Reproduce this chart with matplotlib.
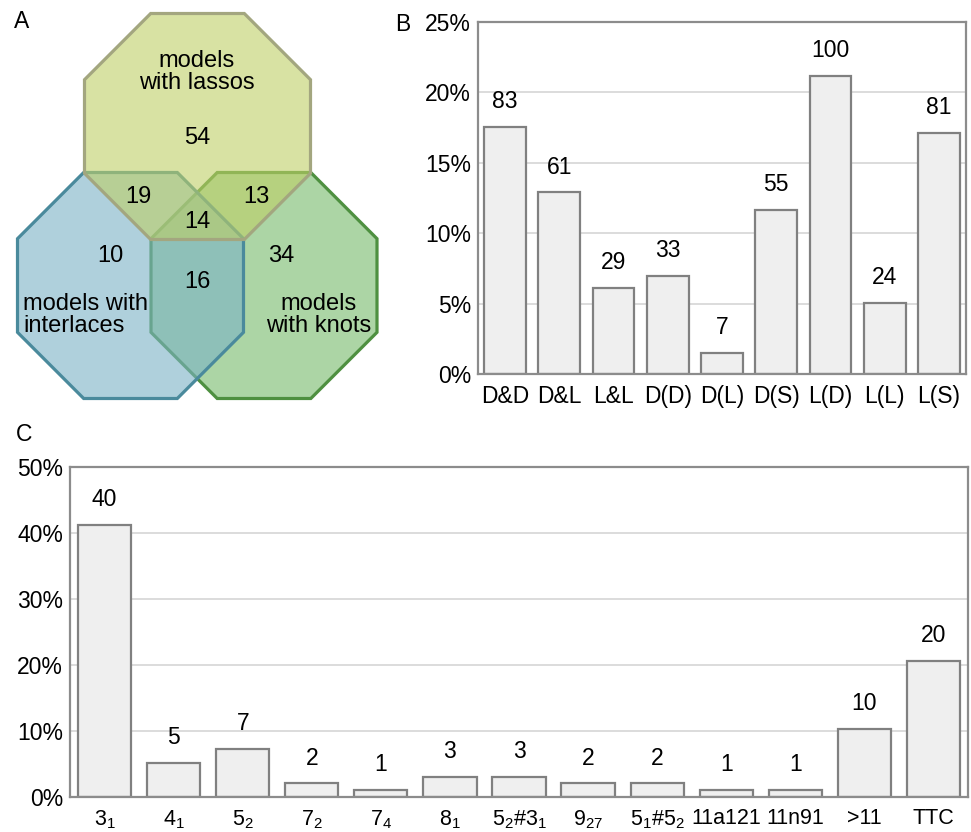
import numpy as np
import matplotlib
matplotlib.use('Agg')
import matplotlib.pyplot as plt
from matplotlib.patches import Polygon
from matplotlib.ticker import FuncFormatter

plt.rcParams['font.family'] = ['Liberation Sans', 'DejaVu Sans']
plt.rcParams['mathtext.fontset'] = 'custom'
plt.rcParams['mathtext.rm'] = 'Liberation Sans'
plt.rcParams['mathtext.default'] = 'regular'

# panel A: overlap counts
venn_sets = ['lassos', 'interlaces', 'knots']
venn_counts = {'lassos': 54, 'interlaces': 10, 'knots': 34,
               'lassos&interlaces': 19, 'lassos&knots': 13,
               'interlaces&knots': 16, 'all': 14}

# panel B
b_labels = ['D&D', 'D&L', 'L&L', 'D(D)', 'D(L)', 'D(S)', 'L(D)', 'L(L)', 'L(S)']
b_counts = [83, 61, 29, 33, 7, 55, 100, 24, 81]

# panel C
c_labels = [r'$3_1$', r'$4_1$', r'$5_2$', r'$7_2$', r'$7_4$', r'$8_1$',
            r'$5_2\#3_1$', r'$9_{27}$', r'$5_1\#5_2$', '11a121', '11n91', '>11', 'TTC']
c_counts = [40, 5, 7, 2, 1, 3, 3, 2, 2, 1, 1, 10, 20]

W, H = 971, 832
fig = plt.figure(figsize=(W / 100, H / 100), dpi=100)

BAR_FC = '#efefef'
BAR_EC = '#808080'
SPINE = '#8c8c8c'
GRID = '#d6d6d6'
FS = 16.5


def octagon(cx, cy, apothem):
    r = apothem / np.cos(np.pi / 8)
    ang = np.pi / 8 + np.arange(8) * np.pi / 4
    return np.column_stack([cx + r * np.cos(ang), cy + r * np.sin(ang)])


# ---- panel A (pixel coordinates, y down)
ax_a = fig.add_axes([0, 1 - 410 / H, 400 / W, 410 / H])
ax_a.set_xlim(0, 400)
ax_a.set_ylim(410, 0)
ax_a.axis('off')

shapes = {
    'knots': ((264, 285.5), (117, 185, 105), '#4e9040'),
    'interlaces': ((130.5, 285.5), (123, 178, 197), '#4a8a9c'),
    'lassos': ((197.5, 126.5), (190, 207, 102), '#a3a67f'),
}
for name in ['knots', 'interlaces', 'lassos']:
    (cx, cy), fc, ec = shapes[name]
    ax_a.add_patch(Polygon(octagon(cx, cy, 113), closed=True,
                           facecolor=(fc[0] / 255, fc[1] / 255, fc[2] / 255, 0.6),
                           edgecolor=ec, linewidth=2.3, joinstyle='miter'))

vfs = 17
ax_a.text(197, 72, 'models\nwith lassos', ha='center', va='center', fontsize=vfs, linespacing=1.05)
ax_a.text(23, 315, 'models with\ninterlaces', ha='left', va='center', fontsize=vfs, linespacing=1.05)
ax_a.text(319, 315, 'models\nwith knots', ha='center', va='center', fontsize=vfs, linespacing=1.05)
pos = {'lassos': (197, 138), 'interlaces': (110, 256), 'knots': (281, 256),
       'lassos&interlaces': (138, 197), 'lassos&knots': (256, 197),
       'interlaces&knots': (197, 282), 'all': (197, 222)}
for k, v in venn_counts.items():
    ax_a.text(pos[k][0], pos[k][1], str(v), ha='center', va='center', fontsize=vfs)


def bar_panel(ax, labels, counts, ymax, step, xfs):
    counts = np.array(counts, dtype=float)
    pct = counts / counts.sum() * 100
    x = np.arange(len(labels))
    ax.bar(x, pct, width=0.77, color=BAR_FC, edgecolor=BAR_EC, linewidth=1.6, zorder=2)
    for xi, p, c in zip(x, pct, counts):
        ax.annotate(str(int(c)), (xi, p), xytext=(0, 10), textcoords='offset points',
                    ha='center', va='bottom', fontsize=FS)
    ax.set_xlim(-0.5, len(labels) - 0.5)
    ax.set_ylim(0, ymax)
    ax.set_yticks(np.arange(0, ymax + 0.1, step))
    ax.yaxis.set_major_formatter(FuncFormatter(lambda v, _: f'{v:.0f}%'))
    ax.set_xticks(x)
    ax.set_xticklabels(labels)
    ax.tick_params(axis='both', length=0, labelsize=FS)
    ax.tick_params(axis='x', labelsize=xfs, pad=8)
    ax.tick_params(axis='y', pad=5)
    ax.yaxis.grid(True, color=GRID, linewidth=1.2)
    ax.set_axisbelow(True)
    for s in ax.spines.values():
        s.set_color(SPINE)
        s.set_linewidth(1.6)


ax_b = fig.add_axes([478 / W, 1 - 374 / H, 488 / W, 352 / H])
bar_panel(ax_b, b_labels, b_counts, 25, 5, 16.5)

ax_c = fig.add_axes([70 / W, 1 - 797 / H, 898 / W, 330 / H])
bar_panel(ax_c, c_labels, c_counts, 50, 10, 15.5)

fig.text(14 / W, 1 - 28 / H, 'A', fontsize=FS)
fig.text(395 / W, 1 - 31 / H, 'B', fontsize=FS)
fig.text(16 / W, 1 - 441 / H, 'C', fontsize=FS)

fig.savefig('out.png', dpi=100)
